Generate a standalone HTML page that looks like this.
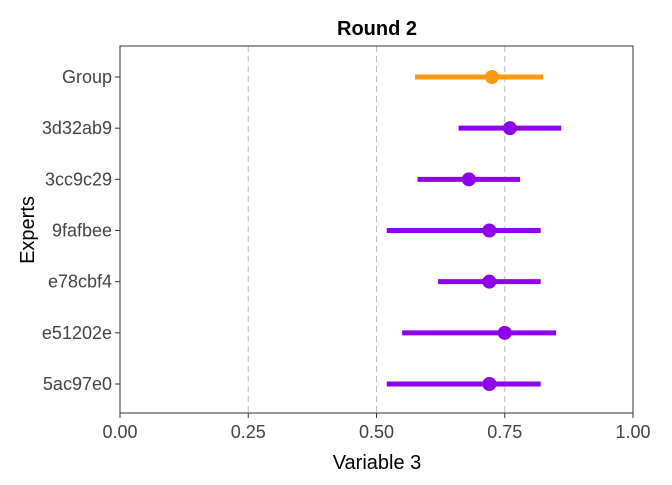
<!DOCTYPE html>
<html><head><meta charset="utf-8"><style>
body{margin:0;background:#fff;}
svg text{font-family:"Liberation Sans",sans-serif;}
</style></head><body>
<svg id="chart" width="672" height="480" xmlns="http://www.w3.org/2000/svg">
<text x="377" y="35" text-anchor="middle" font-size="20" font-weight="bold" fill="#000">Round 2</text>
<text x="377" y="469" text-anchor="middle" font-size="20" fill="#000">Variable 3</text>
<text transform="translate(34,230) rotate(-90)" text-anchor="middle" font-size="20" fill="#000">Experts</text>
<g id="plot"></g>
</svg>
<script>
const experts = ["Group","3d32ab9","3cc9c29","9fafbee","e78cbf4","e51202e","5ac97e0"];
const lows = [0.575,0.66,0.58,0.52,0.62,0.55,0.52];
const highs = [0.825,0.86,0.78,0.82,0.82,0.85,0.82];
const mids = [0.725,0.76,0.68,0.72,0.72,0.75,0.72];
const xTicks = [0,0.25,0.5,0.75,1];
const xTickLabels = ["0.00","0.25","0.50","0.75","1.00"];

const L=120,R=633,T=46,B=413;
const xs=v=>L+v*(R-L);
const ys=i=>77+i*(384-77)/(experts.length-1);
const ns="http://www.w3.org/2000/svg";
const g=document.getElementById('plot');
function mk(t,a){const e=document.createElementNS(ns,t);for(const k in a)e.setAttribute(k,a[k]);g.appendChild(e);return e;}

xTicks.forEach((v,i)=>{
  if(v>0&&v<1){const l=mk('line',{x1:xs(v),x2:xs(v),y1:T,y2:B,stroke:'#bbb','stroke-width':1,'stroke-dasharray':'6,4'});
  
  }
  const t=mk('line',{x1:xs(v),x2:xs(v),y1:B,y2:B+5,stroke:'#333','stroke-width':1});
  
  
  const tx=mk('text',{x:xs(v),y:B+25,'text-anchor':'middle','font-size':18,fill:'#444'});
  tx.textContent=xTickLabels[i];
  
  
});
const frame=mk('rect',{x:L,y:T,width:R-L,height:B-T,fill:'none',stroke:'#333','stroke-width':1});



experts.forEach((n,i)=>{
  const c=i===0?'#ff9a0e':'#8f00ee';
  const y=ys(i);
  const tk=mk('line',{x1:L-5,x2:L,y1:y,y2:y,stroke:'#333','stroke-width':1});
  
  
  const lb=mk('text',{x:L-8,y:y+6,'text-anchor':'end','font-size':18,fill:'#444'});
  lb.textContent=n;
  
  
  const ln=mk('line',{x1:xs(lows[i]),x2:xs(highs[i]),y1:y,y2:y,stroke:c,'stroke-width':5});
  
  
  const pt=mk('circle',{cx:xs(mids[i]),cy:y,r:7,fill:c});
  
  
});
</script>
</body></html>
